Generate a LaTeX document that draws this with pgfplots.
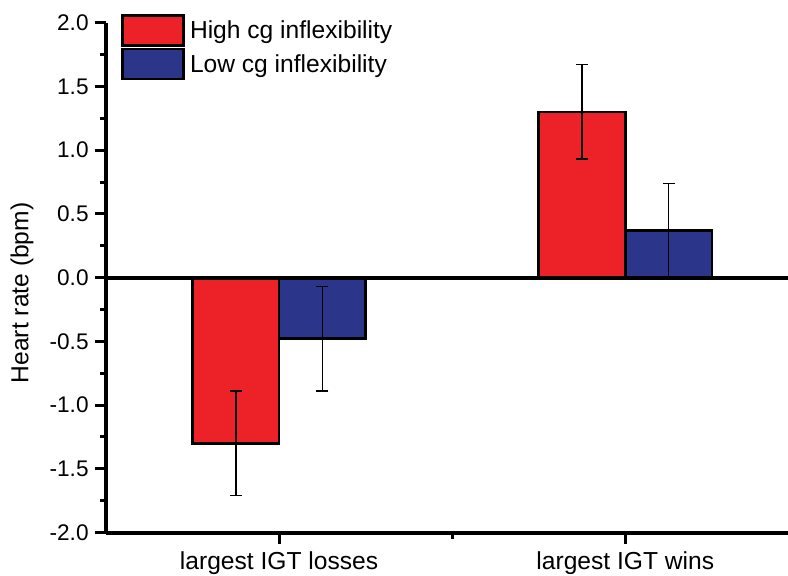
\documentclass[border=0pt]{standalone}
\usepackage{fontspec}
\setmainfont{Liberation Sans}
\usepackage{pgfplots}
\pgfplotsset{compat=1.18}
\definecolor{barred}{RGB}{237,34,41}
\definecolor{barblue}{RGB}{43,54,138}
\begin{document}
\begin{tikzpicture}
\begin{axis}[
  at={(0,0)}, anchor=south west,
  scale only axis, width=341pt, height=254.9pt,
  xmin=0.5, xmax=2.47, ymin=-2, ymax=2,
  axis lines*=left,
  axis line style={line width=2pt, -},
  xtick={1,2}, xticklabels={largest IGT losses, largest IGT wins},
  minor xtick={1.5},
  ytick={-2,-1.5,-1,-0.5,0,0.5,1,1.5,2},
  minor ytick={-1.75,-1.25,-0.75,-0.25,0.25,0.75,1.25,1.75},
  tick align=outside, major tick length=5.5pt, minor tick length=3pt,
  tick style={black, line width=1.5pt},
  /pgf/number format/assume math mode=true,
  yticklabel style={/pgf/number format/.cd, fixed, fixed zerofill, precision=1, /tikz/.cd,
    font=\fontsize{11.3}{13}\selectfont, anchor=east, inner sep=0pt, xshift=-3pt},
  xticklabel style={font=\fontsize{12.3}{14}\selectfont, anchor=north, inner sep=0pt, yshift=-4pt},
  ylabel={Heart rate (bpm)},
  ylabel style={font=\fontsize{12.3}{14}\selectfont, at={(axis description cs:0,0.47)}, anchor=center, yshift=42pt},
  ybar, bar width=0.25, bar shift=0pt,
  legend image code/.code={\draw[#1, line width=1.3pt] (0pt,-7pt) rectangle (30.5pt,8pt);},
  legend style={at={(0.022,1.018)}, anchor=north west, draw=none, fill=none,
    inner sep=0pt, row sep=0.6pt, column sep=2.5pt, nodes={inner sep=0pt},
    font=\fontsize{12.3}{14}\selectfont},
  legend cell align=left,
  error bars/y dir=both, error bars/y explicit,
  error bars/error bar style={line width=0.7pt, black},
  error bars/error mark options={rotate=90, mark size=3pt, line width=0.7pt, black},
]
\addplot[fill=barred, draw=black, line width=1.3pt] coordinates {
  (0.875,-1.30) +- (0,0.41)
  (1.875,1.30) +- (0,0.37)
};
\addlegendentry{High cg inflexibility}
\addplot[fill=barblue, draw=black, line width=1.3pt] coordinates {
  (1.125,-0.48) +- (0,0.41)
  (2.125,0.37) +- (0,0.37)
};
\addlegendentry{Low cg inflexibility}
\draw[line width=2pt] (axis cs:0.5,0) -- (axis cs:2.47,0);
\end{axis}
\pgfresetboundingbox
\path[use as bounding box] (-53pt,-21.25pt) rectangle (341pt,266.25pt);
\end{tikzpicture}
\end{document}
